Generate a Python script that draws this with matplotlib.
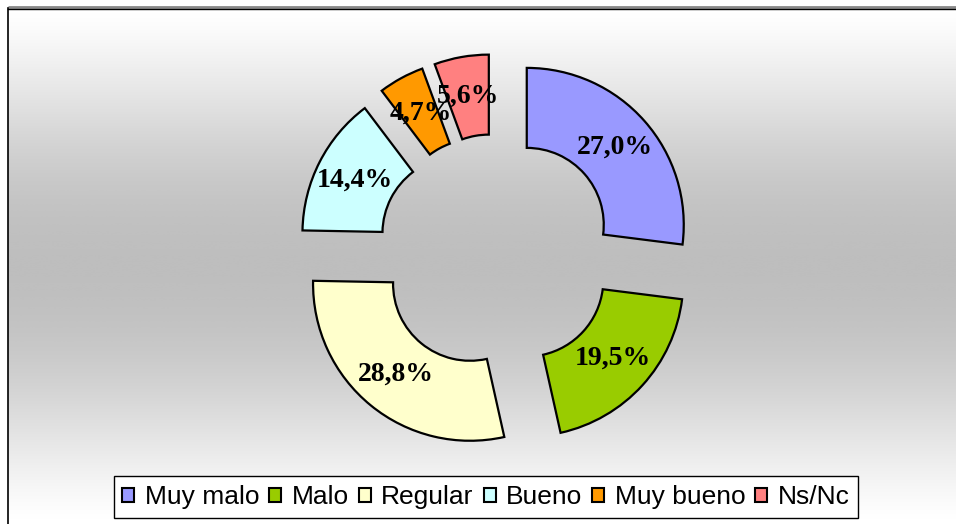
import numpy as np
import matplotlib
matplotlib.use("Agg")
import matplotlib.pyplot as plt

# -----------------------------
# data
# -----------------------------
categories = ["Muy malo", "Malo", "Regular", "Bueno", "Muy bueno", "Ns/Nc"]
percentages = [27.0, 19.5, 28.8, 14.4, 4.7, 5.6]
colors = ["#9999FF", "#99CC00", "#FFFFCC", "#CCFFFF", "#FF9900", "#FF8080"]

W, H = 956, 524
fig = plt.figure(figsize=(W / 100, H / 100), dpi=100)
fig.patch.set_facecolor("white")

# background panel with vertical gradient (white -> grey -> white)
bg = fig.add_axes([0, 0, 1, 1])
bg.set_xlim(0, W)
bg.set_ylim(H, 0)
bg.axis("off")
t = np.linspace(0, 1, 256)
shade = 1 - 0.255 * np.sin(np.pi * t) ** 1.3
grad = np.repeat(shade[:, None], 2, axis=1)
bg.imshow(grad, cmap="gray", vmin=0, vmax=1, extent=(8, W, H, 8),
          aspect="auto", interpolation="bicubic")
bg.plot([8, W], [7, 7], color="#888888", lw=2.0, solid_capstyle="butt")
bg.plot([8, W], [8.5, 8.5], color="black", lw=1.0)
bg.plot([8, 8], [8, H], color="black", lw=1.2)

# donut
ax = fig.add_axes([0, 0, 1, 1])
ax.patch.set_alpha(0)
R = 157
wedges, _, autotexts = ax.pie(
    percentages,
    colors=colors,
    explode=[41] * len(percentages),
    radius=R,
    center=(496, H - 252),
    startangle=90,
    counterclock=False,
    autopct=lambda p: f"{p:.1f}%".replace(".", ","),
    pctdistance=0.745,
    wedgeprops=dict(width=80, edgecolor="black", linewidth=1.6),
    textprops=dict(family="Liberation Serif", fontweight="bold",
                   fontsize=20, color="black"),
)
ax.set_xlim(0, W)
ax.set_ylim(0, H)
ax.set_aspect("auto")
ax.axis("off")

leg = fig.legend(
    wedges, categories,
    loc="center", bbox_to_anchor=(0.5084, 0.0515),
    ncol=6, frameon=True, fancybox=False,
    prop=dict(family="Liberation Sans", size=19),
    handlelength=0.45, handleheight=0.45, handletextpad=0.4,
    columnspacing=0.38, borderpad=0.33,
)
leg.get_frame().set_edgecolor("black")
leg.get_frame().set_linewidth(1.0)
leg.get_frame().set_facecolor("white")
leg.get_frame().set_alpha(1)
for h in leg.legend_handles:
    h.set_edgecolor("black")
    h.set_linewidth(1.5)

fig.savefig("out.png", dpi=100)
